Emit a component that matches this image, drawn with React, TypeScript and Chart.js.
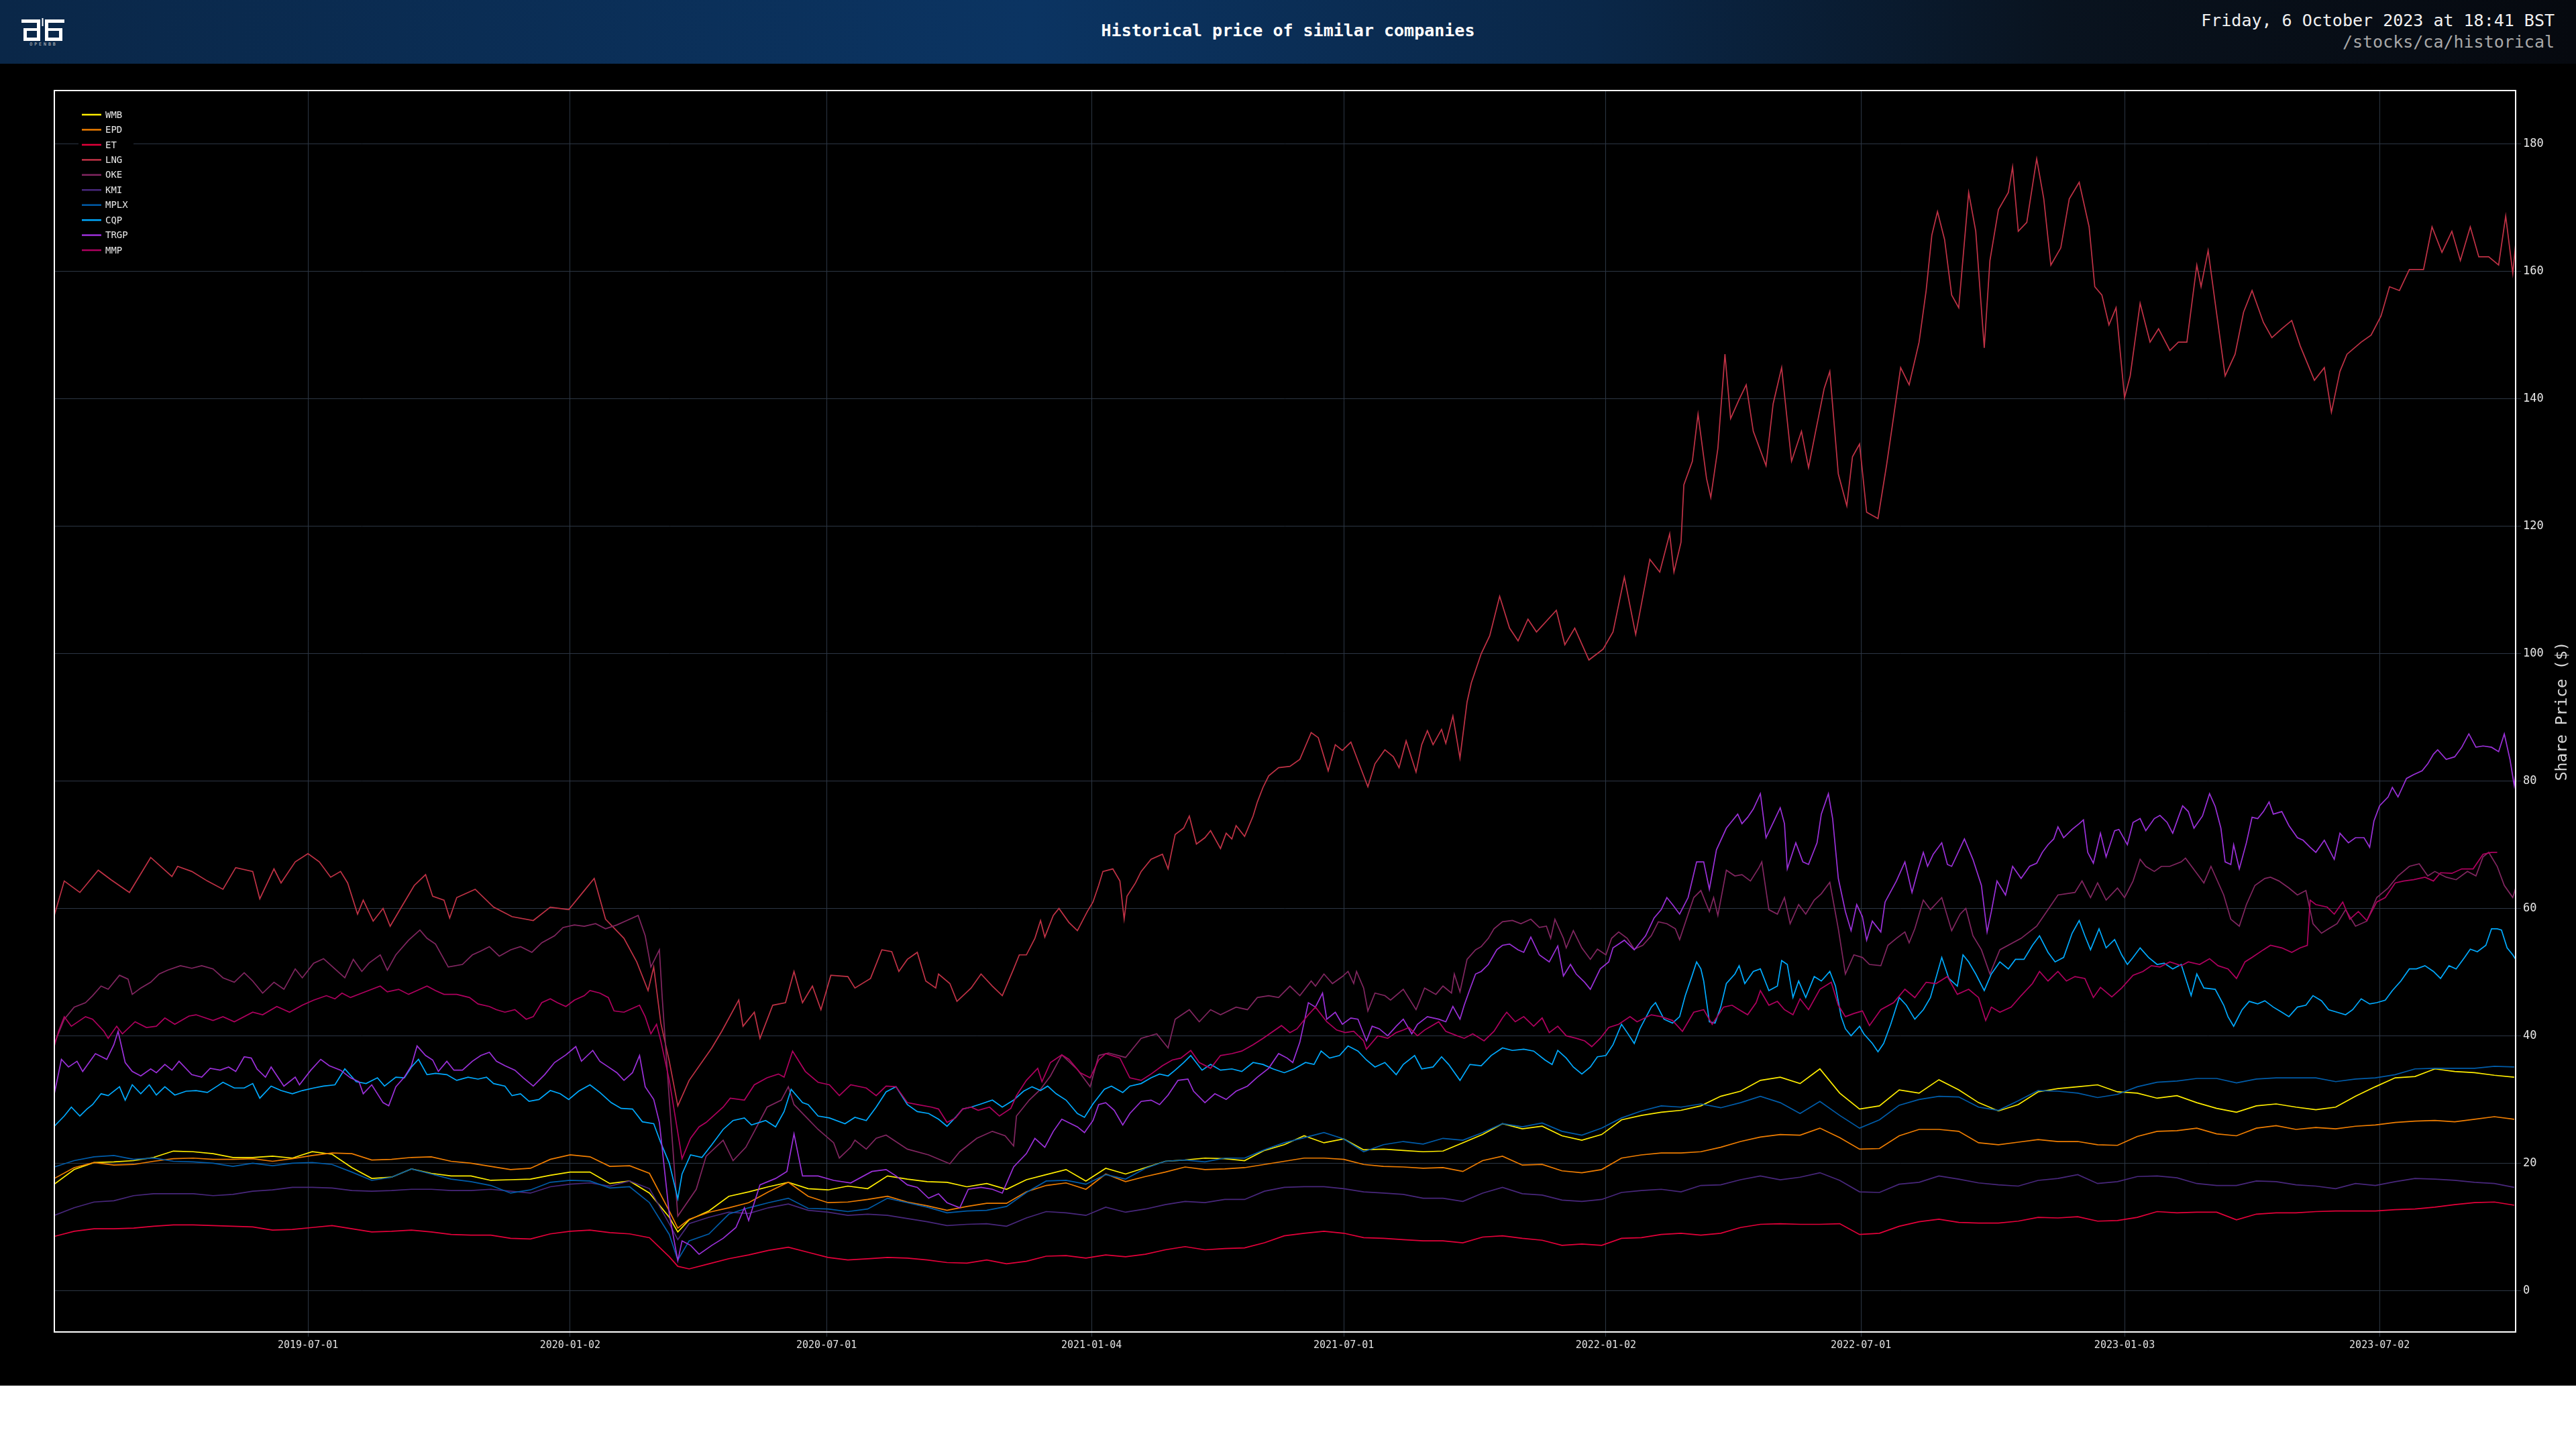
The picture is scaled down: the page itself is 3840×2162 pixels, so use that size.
import { useEffect, useRef } from "react";
import { Chart, registerables } from "chart.js";

Chart.register(...registerables);

const DAY = 86400000;
const START = Date.UTC(2019, 0, 3);
const END_DAY = 1737; // 2023-10-06

// sample days (days after 2019-01-03): every two weeks, plus the 2020-03-18 low
const DAYS: number[] = (() => {
  const out: number[] = [];
  for (let i = 0; i < 125; i++) out.push(i * 14);
  out.splice(32, 0, 440);
  return out;
})();

const TICK_DATES = [
  "2019-07-01", "2020-01-02", "2020-07-01", "2021-01-04", "2021-07-01",
  "2022-01-02", "2022-07-01", "2023-01-03", "2023-07-02",
];
const Y_TICKS = [0, 20, 40, 60, 80, 100, 120, 140, 160, 180];

const TICKERS = ["WMB", "EPD", "ET", "LNG", "OKE", "KMI", "MPLX", "CQP", "TRGP", "MMP"];
const COLORS = ["#ffed00", "#ef7d00", "#e4003a", "#c13246", "#822661", "#48277c", "#005ca9", "#00aaff", "#9b30d9", "#af005f"];

// two-weekly closes on DAYS
const WMB = [
  16.7, 19, 20.1, 20.2, 20.4, 20.9, 21.9, 21.8, 21.5, 20.9,
  20.9, 21.1, 20.8, 21.8, 21.4, 19.3, 17.6, 17.8, 19.1, 18.4,
  18, 18, 17.3, 17.4, 17.5, 18.1, 18.6, 18.6, 16.8, 17.2,
  15.3, 11.5, 9.2,
  11.1, 12.5, 14.8, 15.5, 16.3, 17, 16, 15.8, 16.4, 16,
  18, 17.5, 17.1, 17, 16.3, 16.8, 15.9, 17.4, 18.2, 19,
  17.2, 19.2, 18.3, 19.3, 20.3, 20.5, 20.8, 20.7, 20.4, 22,
  22.9, 24.3, 23.2, 23.8, 22.1, 22.2, 22, 21.8, 21.9, 23.2,
  24.5, 26.2, 25.4, 25.8, 24.3, 23.6, 24.5, 26.8, 27.5, 28,
  28.3, 29, 30.5, 31.3, 33, 33.5, 32.5, 34.8, 31, 28.5,
  29, 31.5, 31, 33.1, 31.5, 29.5, 28.2, 29.2, 31.2, 31.7,
  32, 32.3, 31.2, 31, 30.2, 30.6, 29.5, 28.6, 28, 29,
  29.3, 28.8, 28.4, 28.8, 30.5, 32, 33.4, 33.6, 34.8, 34.4,
  34.2, 33.8, 33.5,
];
const EPD = [
  17.6, 19.3, 20.1, 19.7, 19.8, 20.3, 20.7, 20.8, 20.6, 20.6,
  20.7, 20.3, 20.7, 21.2, 21.6, 21.5, 20.5, 20.6, 20.9, 21,
  20.3, 20, 19.5, 19, 19.2, 20.6, 21.3, 21, 19.5, 19.6,
  18.4, 12.5, 9.8,
  11.2, 12.3, 13, 13.8, 15.5, 17, 14.8, 13.8, 13.9, 14.3,
  14.8, 13.9, 13.3, 12.6, 13.2, 13.7, 13.7, 15.5, 16.5, 16.9,
  15.9, 18.3, 17.1, 17.9, 18.6, 19.4, 19, 19.1, 19.3, 19.8,
  20.3, 20.8, 20.8, 20.6, 19.8, 19.5, 19.4, 19.2, 19.3, 18.7,
  20.4, 21.1, 19.7, 19.8, 18.8, 18.5, 19, 20.8, 21.3, 21.6,
  21.6, 21.8, 22.5, 23.4, 24.1, 24.5, 24.4, 25.5, 24, 22.2,
  22.3, 24.3, 25.3, 25.3, 25, 23.2, 22.9, 23.3, 23.7, 23.4,
  23.4, 22.9, 22.8, 24.2, 25, 25.1, 25.5, 24.6, 24.3, 25.5,
  25.9, 25.3, 25.6, 25.4, 25.8, 26, 26.4, 26.6, 26.7, 26.5,
  26.9, 27.3, 26.9,
];
const ET = [
  8.5, 9.3, 9.7, 9.7, 9.8, 10.1, 10.3, 10.3, 10.2, 10.1,
  10, 9.5, 9.6, 9.9, 10.2, 9.7, 9.2, 9.3, 9.5, 9.2,
  8.8, 8.7, 8.7, 8.2, 8.1, 8.9, 9.3, 9.5, 9.1, 8.9,
  8.3, 5.3, 3.8,
  3.4, 4.2, 5, 5.6, 6.3, 6.8, 6, 5.2, 4.8, 5,
  5.2, 5.1, 4.8, 4.4, 4.3, 4.8, 4.2, 4.6, 5.4, 5.5,
  5.1, 5.6, 5.3, 5.7, 6.4, 6.9, 6.4, 6.6, 6.7, 7.5,
  8.6, 9, 9.3, 9, 8.3, 8.2, 8, 7.8, 7.8, 7.5,
  8.4, 8.6, 8.2, 7.9, 7.1, 7.3, 7.1, 8.2, 8.3, 8.8,
  9, 8.7, 9, 9.9, 10.4, 10.5, 10.4, 10.4, 10.5, 8.8,
  9, 10.1, 10.8, 11.2, 10.7, 10.6, 10.6, 10.9, 11.5, 11.4,
  11.6, 10.9, 11, 11.5, 12.4, 12.2, 12.3, 12.3, 11.1, 12,
  12.2, 12.2, 12.4, 12.5, 12.5, 12.5, 12.7, 12.8, 13.1, 13.5,
  13.8, 13.9, 13.4,
];
const KMI = [
  11.8, 13, 13.9, 14.1, 14.9, 15.2, 15.2, 15.2, 14.9, 15.1,
  15.6, 15.8, 16.2, 16.2, 16.1, 15.7, 15.6, 15.7, 15.9, 15.9,
  15.7, 15.7, 15.9, 15.6, 15.3, 16.3, 16.7, 16.9, 16.4, 17.2,
  16, 10.5, 8,
  10.5, 11.5, 12.3, 12.1, 13, 13.6, 12.6, 12.3, 11.8, 12,
  11.8, 11.3, 10.8, 10.2, 10.4, 10.5, 10.1, 11.4, 12.4, 12.2,
  11.8, 13.1, 12.3, 12.8, 13.5, 14, 13.8, 14.3, 14.3, 15.6,
  16.2, 16.3, 16.3, 16, 15.5, 15.3, 15.1, 14.5, 14.5, 14,
  15.3, 16.2, 15.2, 15, 14.2, 14, 14.3, 15.4, 15.7, 15.9,
  15.5, 16.5, 16.6, 17.4, 18, 17.4, 17.8, 18.5, 17.3, 15.5,
  15.4, 16.7, 17, 18, 17.5, 16.9, 16.6, 16.4, 17.3, 17.6,
  18.2, 16.8, 17.1, 17.9, 18, 17.7, 16.8, 16.5, 16.5, 17.2,
  17.1, 16.6, 16.4, 16, 16.8, 16.5, 17.1, 17.6, 17.5, 17.3,
  17, 16.8, 16.2,
];
const MPLX = [
  19.4, 20.4, 21, 21.2, 20.6, 20.8, 20.3, 20.2, 20, 19.5,
  20, 19.6, 20, 20.1, 19.8, 18.6, 17.3, 17.8, 19.1, 18.3,
  17.5, 17.1, 16.5, 15.3, 15.8, 17, 17.3, 17.2, 16.1, 16.3,
  13.8, 8.8, 4.8,
  7.8, 8.9, 12, 13, 13.8, 14.5, 12.9, 12.8, 12.4, 12.8,
  14.5, 13.8, 13.1, 12.2, 12.5, 12.6, 13.2, 15.4, 17.2, 17.3,
  16.7, 18.2, 17.5, 19.2, 20.3, 20.5, 20.2, 20.8, 20.8, 22.1,
  23.2, 24, 24.8, 23.8, 21.8, 22.9, 23.4, 23, 23.9, 23.6,
  24.8, 26.2, 25.7, 26.3, 25, 24.4, 25.5, 27.1, 28.2, 29,
  28.8, 29.3, 28.7, 29.5, 30.5, 29.5, 27.8, 29.7, 27.5, 25.5,
  26.8, 29.1, 30, 30.5, 30.4, 28.8, 28.3, 29.8, 31.4, 31.3,
  31, 30.3, 30.8, 32, 32.7, 32.9, 33.3, 33.3, 32.6, 33.2,
  33.4, 33.4, 33.4, 32.8, 33.2, 33.4, 33.9, 34.8, 34.9, 34.9,
  34.9, 35.2, 35.1,
];

// read more finely: [days after 2019-01-03, close]
const LNG_FINE: [number, number][] = [
  [0, 58.9], [7, 64.3], [18, 62.5], [31, 66], [40, 64.5], [53, 62.5], [68, 68], [83, 65], [87, 66.6], [97, 65.8],
  [108, 64.3], [119, 63], [128, 66.4], [140, 65.8], [145, 61.5], [155, 66.2], [160, 64], [170, 67.3], [179, 68.6], [187, 67.3],
  [195, 64.9], [202, 65.8], [207, 64], [214, 59.1], [218, 61.3], [225, 58], [232, 60], [237, 57.2], [246, 60.6], [254, 63.6],
  [262, 65.3], [267, 61.9], [275, 61.3], [279, 58.5], [284, 61.7], [297, 63], [310, 60.2], [323, 58.7], [338, 58.1], [350, 60.2],
  [363, 59.8], [374, 62.8], [381, 64.7], [389, 58.3], [402, 55.3], [411, 51.6], [419, 47.1], [423, 50.8], [428, 42], [434, 36],
  [440, 29], [448, 33], [464, 38.1], [471, 40.7], [483, 45.6], [486, 41.5], [494, 43.7], [498, 39.6], [507, 44.8], [516, 45.2],
  [522, 50.1], [528, 45.2], [535, 47.8], [541, 44.1], [548, 49.5], [560, 49.3], [565, 47.5], [576, 49], [584, 53.5], [591, 53.2],
  [596, 50.1], [602, 52], [609, 53.1], [615, 48.6], [622, 47.5], [624, 49.7], [632, 48.2], [637, 45.4], [647, 47.5], [654, 49.7],
  [662, 47.8], [669, 46.3], [677, 50.5], [681, 52.7], [686, 52.7], [692, 55.3], [696, 58.1], [699, 55.5], [705, 58.9], [709, 60],
  [716, 57.8], [722, 56.5], [729, 59.5], [733, 61], [737, 63.6], [740, 65.8], [747, 66.2], [752, 64.3], [755, 58.3], [757, 61.9],
  [763, 64], [767, 65.8], [774, 67.7], [782, 68.5], [786, 66.2], [791, 71.6], [797, 72.6], [801, 74.5], [806, 70.1], [812, 71.1],
  [816, 72.2], [823, 69.4], [827, 71.8], [831, 70.9], [834, 73], [840, 71.3], [846, 74.5], [849, 76.7], [853, 79], [857, 80.8],
  [864, 82.1], [872, 82.3], [879, 83.4], [883, 85.5], [887, 87.6], [892, 86.8], [899, 81.6], [904, 85.7], [909, 84.8], [915, 86.1],
  [922, 82], [927, 79.1], [932, 82.7], [939, 84.9], [945, 83.8], [949, 82.1], [954, 86.3], [961, 81.4], [965, 85.7], [969, 87.9],
  [973, 85.7], [979, 88.1], [982, 85.9], [987, 90.2], [992, 83.6], [997, 92.4], [1000, 95.4], [1007, 100], [1013, 102.8], [1020, 109],
  [1027, 104], [1033, 102], [1040, 105.4], [1046, 103.4], [1060, 106.8], [1066, 101.4], [1073, 104], [1083, 99], [1093, 100.7], [1100, 103.4],
  [1108, 112], [1116, 103], [1126, 114.8], [1133, 112.8], [1140, 118.8], [1143, 112.8], [1148, 117.5], [1150, 126.5], [1156, 130.2], [1160, 137.6],
  [1166, 127.5], [1169, 124.5], [1174, 132.2], [1179, 147], [1183, 136.9], [1189, 139.9], [1194, 142.2], [1199, 134.9], [1208, 129.5], [1213, 139.2],
  [1219, 144.9], [1226, 130.2], [1233, 134.9], [1238, 129.2], [1243, 134.9], [1249, 141.6], [1253, 144.3], [1259, 128.2], [1265, 123.2], [1269, 130.9],
  [1274, 132.9], [1279, 122.2], [1287, 121.2], [1293, 129.5], [1297, 135.6], [1303, 144.9], [1309, 142.2], [1316, 148.9], [1321, 157], [1325, 165.7],
  [1329, 169.4], [1334, 165], [1339, 156.3], [1344, 154.3], [1351, 172.4], [1356, 166.3], [1362, 148], [1366, 161.7], [1372, 169.7], [1379, 172.4],
  [1382, 176.4], [1386, 166.3], [1392, 167.7], [1399, 177.7], [1404, 171.4], [1409, 161], [1416, 163.7], [1422, 171.4], [1429, 174], [1436, 167],
  [1440, 157.6], [1445, 156.3], [1450, 151.6], [1455, 154.3], [1461, 140.2], [1465, 143.6], [1472, 155], [1479, 148.9], [1485, 151], [1493, 147.6],
  [1499, 148.9], [1505, 148.9], [1512, 161], [1515, 157.6], [1520, 163.3], [1525, 155], [1532, 143.6], [1539, 147], [1545, 153.6], [1551, 157],
  [1559, 152], [1565, 149.6], [1572, 151], [1579, 152.3], [1585, 148.3], [1595, 142.9], [1602, 144.9], [1607, 137.9], [1613, 144.3], [1618, 147],
  [1628, 148.9], [1635, 150], [1642, 153], [1648, 157.6], [1655, 157], [1662, 160.3], [1672, 160.3], [1678, 167], [1685, 163], [1692, 166.3],
  [1698, 161.7], [1705, 167], [1711, 162.3], [1718, 162.3], [1725, 161], [1730, 168.7], [1735, 159.7], [1737, 164.3],
];
const OKE_FINE: [number, number][] = [
  [0, 38.8], [7, 42.6], [14, 44.5], [22, 45.2], [27, 46.3], [33, 47.8], [38, 47.3], [46, 49.5], [52, 48.9], [55, 46.5],
  [61, 47.5], [68, 48.4], [74, 49.7], [80, 50.3], [89, 51], [97, 50.6], [104, 51], [112, 50.5], [119, 49.1], [127, 48.4],
  [134, 49.9], [140, 48.6], [147, 46.7], [155, 48.4], [162, 47.3], [170, 50.5], [175, 49.1], [183, 51.4], [190, 52.1], [198, 50.5],
  [205, 49.1], [211, 52], [217, 50.1], [222, 51.4], [230, 52.7], [235, 50.3], [241, 52.7], [250, 55], [258, 56.6], [263, 55.3],
  [269, 54.4], [278, 50.8], [288, 51.2], [295, 52.7], [301, 53.3], [307, 54], [314, 52.5], [322, 53.5], [329, 54], [337, 53.1],
  [344, 54.6], [353, 55.7], [359, 57], [367, 57.4], [374, 57.2], [382, 57.6], [389, 56.8], [397, 57.4], [404, 58.1], [412, 58.9],
  [417, 55.7], [421, 50.8], [427, 53.5], [429, 46], [434, 30], [440, 11.7], [453, 15.9], [460, 21.1], [472, 23.6], [479, 20.4],
  [488, 22.5], [494, 25], [503, 28.8], [513, 29.9], [518, 32], [522, 29.2], [539, 25.3], [550, 23.2], [554, 20.8], [562, 22.5],
  [565, 23.6], [573, 22.2], [580, 23.9], [587, 24.4], [602, 22.2], [617, 21.3], [632, 19.9], [639, 21.8], [651, 23.9], [662, 25],
  [671, 24.3], [677, 22.7], [679, 27.4], [688, 29.9], [696, 31.6], [703, 33.7], [711, 37], [722, 34.7], [731, 32], [737, 36.9],
  [744, 37.3], [756, 36.6], [767, 39.6], [778, 40.3], [786, 38.1], [791, 42.6], [801, 44.1], [808, 42.2], [816, 44.1], [823, 43.3],
  [834, 44.5], [842, 44.1], [849, 46], [857, 46.3], [864, 46], [872, 47.8], [879, 46.3], [887, 48.6], [890, 47.8], [896, 49.7],
  [902, 48.2], [909, 49.3], [913, 50.1], [917, 48.2], [919, 50.1], [924, 47.5], [927, 43.9], [932, 46.7], [939, 46.3], [943, 45.6],
  [952, 47.3], [961, 44.1], [967, 47.5], [975, 46.5], [980, 47.8], [986, 46.7], [988, 49.7], [992, 46.9], [997, 52], [1003, 53.5],
  [1007, 54], [1012, 55.3], [1016, 56.8], [1022, 57.9], [1029, 58.1], [1035, 57.6], [1042, 58.3], [1048, 57], [1053, 57.2], [1056, 55.3],
  [1059, 58.3], [1065, 55.3], [1067, 53.8], [1072, 56.5], [1078, 53.8], [1084, 52], [1089, 53.6], [1095, 52.7], [1099, 55.3], [1104, 56.3],
  [1110, 55.3], [1115, 53.6], [1121, 54.2], [1127, 55.7], [1132, 57.9], [1138, 57.6], [1144, 56.8], [1147, 55.1], [1153, 59.1], [1157, 61.7],
  [1162, 62.8], [1168, 59.5], [1171, 61.7], [1174, 58.9], [1180, 66], [1186, 65.1], [1191, 65.3], [1197, 64.3], [1203, 66.4], [1205, 67.3],
  [1210, 59.8], [1216, 59.1], [1221, 61.7], [1225, 57.6], [1231, 60.6], [1236, 59.1], [1242, 61.3], [1247, 62.3], [1253, 64.1], [1259, 56.8],
  [1264, 49.7], [1270, 52.7], [1276, 52.3], [1281, 51.2], [1289, 51], [1294, 54.2], [1300, 55.3], [1306, 56.3], [1309, 54.6], [1313, 56.8],
  [1319, 61.3], [1324, 59.8], [1332, 61.7], [1339, 56.5], [1345, 59.1], [1349, 60], [1354, 55.7], [1360, 53.5], [1366, 49.7], [1373, 53.5],
  [1388, 55.3], [1399, 57.2], [1407, 59.8], [1414, 62.1], [1426, 62.5], [1431, 64.3], [1437, 61.7], [1442, 64], [1448, 61.3], [1456, 63.2],
  [1461, 61.7], [1467, 64.3], [1472, 67.7], [1476, 66.6], [1482, 65.8], [1487, 66.6], [1493, 66.6], [1501, 67.3], [1504, 67.9], [1512, 65.5],
  [1517, 64], [1522, 66.6], [1531, 62.1], [1536, 58.3], [1542, 57.2], [1547, 60.6], [1553, 63.6], [1560, 64.7], [1564, 64.9], [1570, 64.3],
  [1577, 63.2], [1583, 62.1], [1589, 62.8], [1594, 57.6], [1600, 56.1], [1605, 56.8], [1611, 57.6], [1617, 59.8], [1624, 57.2], [1632, 58],
  [1639, 61.7], [1647, 63.2], [1654, 65.1], [1662, 66.6], [1669, 67], [1675, 65.1], [1680, 65.8], [1688, 64.9], [1695, 64.5], [1703, 65.8],
  [1709, 65.1], [1714, 68.1], [1718, 68.8], [1724, 66.6], [1729, 63.6], [1735, 61.7], [1737, 63.2],
];
const CQP_FINE: [number, number][] = [
  [0, 25.8], [7, 27.4], [12, 28.8], [18, 27.4], [23, 28.5], [27, 29.2], [33, 30.9], [38, 30.6], [46, 32], [50, 29.9],
  [55, 32.3], [61, 30.9], [67, 32.3], [72, 30.7], [78, 32], [85, 30.7], [93, 31.3], [100, 31.4], [108, 31.1], [115, 32.1],
  [119, 32.7], [127, 31.8], [134, 31.8], [140, 32.5], [145, 30.2], [153, 32.1], [160, 31.4], [168, 30.9], [175, 31.4], [183, 31.8],
  [190, 32.1], [198, 32.3], [205, 34.8], [213, 32.8], [220, 32.5], [228, 33.4], [233, 32.1], [241, 33.5], [247, 33.4], [252, 35.1],
  [257, 36.3], [263, 33.9], [269, 34.1], [277, 33.9], [284, 33], [292, 33.5], [299, 33.2], [305, 33.5], [310, 32.5], [318, 32.1],
  [323, 30.6], [329, 30.9], [335, 29.7], [342, 30], [350, 31.4], [357, 30.9], [363, 30], [370, 31.3], [378, 32.3], [385, 31.1],
  [393, 29.5], [400, 28.6], [408, 28.5], [415, 26.5], [423, 26.2], [428, 23.2], [434, 20], [440, 14.4], [443, 18.3], [449, 21.3],
  [457, 20.9], [464, 22.9], [472, 25.3], [479, 26.7], [487, 27.1], [492, 26], [502, 26.7], [509, 25.7], [515, 28.1], [520, 31.6],
  [528, 29.5], [532, 29.2], [539, 27.4], [547, 27.1], [558, 26.2], [565, 27.2], [573, 26.7], [580, 28.8], [587, 31.2], [594, 32],
  [602, 29.2], [609, 28.1], [617, 27.8], [624, 26.9], [630, 25.8], [636, 27.2], [641, 28.5], [647, 28.8], [654, 29.3], [662, 29.9],
  [669, 28.8], [677, 29.9], [684, 31.3], [690, 32], [696, 31.4], [701, 32.1], [707, 30.9], [714, 29.9], [722, 27.8], [727, 27.2],
  [733, 29.3], [741, 31.6], [746, 32.1], [754, 31.1], [759, 32.1], [767, 32.5], [774, 33.4], [780, 34], [786, 33.7], [791, 34.6],
  [797, 35.8], [802, 36.9], [810, 34.6], [816, 35.5], [823, 34.6], [831, 34.8], [838, 34.4], [846, 35.8], [853, 35.5], [860, 34.8],
  [868, 34.2], [875, 34.8], [883, 35.8], [889, 35.5], [894, 37.6], [900, 36.5], [907, 36.9], [913, 38.4], [920, 37.6], [926, 36.2],
  [932, 35.1], [939, 35.8], [947, 33.9], [952, 35.5], [960, 36.9], [965, 34.8], [973, 35.1], [979, 36.7], [984, 35.5], [992, 33],
  [999, 35.5], [1007, 35.3], [1014, 36.9], [1022, 38.1], [1029, 37.7], [1037, 37.9], [1044, 37.6], [1052, 36.2], [1057, 35.5], [1061, 37.7],
  [1067, 36.5], [1072, 35.1], [1078, 34], [1084, 35.1], [1089, 36.7], [1095, 36.9], [1100, 38.6], [1106, 41.8], [1110, 40.5], [1115, 38.8],
  [1119, 41.1], [1127, 44.5], [1130, 45.2], [1136, 42.6], [1142, 42], [1147, 43], [1151, 46.3], [1155, 48.9], [1159, 51.6], [1162, 50.5],
  [1164, 48.6], [1168, 42.2], [1172, 42], [1176, 44.5], [1180, 48.2], [1186, 49.7], [1189, 51], [1193, 48.2], [1199, 50.1], [1204, 50.5],
  [1210, 47.1], [1216, 47.8], [1219, 51.8], [1223, 51.2], [1227, 46], [1231, 48.6], [1236, 46], [1242, 49.3], [1247, 48.6], [1253, 50.1],
  [1257, 47.8], [1261, 43], [1264, 41.1], [1268, 40], [1274, 41.5], [1277, 40.3], [1283, 38.8], [1287, 37.5], [1291, 38.8], [1296, 41.8],
  [1302, 46], [1307, 44.8], [1313, 42.6], [1319, 44.1], [1324, 46], [1332, 52.3], [1337, 49], [1343, 47.8], [1347, 52.7], [1351, 51.6],
  [1356, 49.7], [1362, 47.1], [1367, 49.7], [1373, 51.6], [1379, 50.5], [1384, 52], [1390, 52], [1396, 54.2], [1401, 55.7], [1407, 53.1],
  [1412, 51.6], [1418, 52.3], [1424, 56.1], [1429, 58.1], [1433, 55.7], [1437, 53.5], [1443, 56.8], [1448, 53.8], [1454, 55.1], [1459, 52.7],
  [1463, 51.2], [1467, 52.3], [1472, 53.8], [1478, 52.3], [1484, 51.2], [1489, 51.4], [1495, 50.5], [1501, 51.2], [1508, 46.3], [1512, 49.7],
  [1517, 47.5], [1525, 47.3], [1531, 44.8], [1534, 43], [1538, 41.5], [1544, 44.1], [1549, 45.4], [1555, 45], [1560, 45.5], [1566, 44.5],
  [1572, 43.7], [1577, 43], [1583, 44.5], [1589, 44.8], [1594, 46.3], [1600, 45.5], [1605, 44.1], [1611, 43.7], [1617, 43.3], [1622, 44.1],
  [1628, 45.8], [1634, 45], [1639, 45.2], [1645, 45.6], [1650, 47.1], [1656, 48.6], [1662, 50.5], [1667, 50.5], [1673, 51], [1679, 50.1],
  [1684, 49], [1690, 51], [1695, 50.5], [1701, 52.3], [1705, 53.6], [1710, 53.2], [1716, 54.2], [1720, 56.8], [1724, 56.8], [1727, 56.6],
  [1731, 53.8], [1735, 52.7], [1737, 52],
];
const TRGP_FINE: [number, number][] = [
  [0, 30.9], [5, 36.3], [10, 35.1], [16, 36], [20, 34.4], [29, 37.2], [37, 36.3], [42, 38.6], [45, 40.7], [50, 35.8],
  [55, 34.4], [61, 33.7], [68, 34.8], [72, 34.2], [78, 35.5], [83, 34.6], [88, 36], [97, 33.9], [104, 33.5], [110, 34.9],
  [117, 34.6], [123, 35.1], [128, 34.4], [134, 36.7], [139, 36.5], [143, 34.8], [149, 33.5], [153, 35.1], [162, 32.1], [170, 33.5],
  [173, 32.3], [181, 34.6], [188, 36.3], [194, 35.3], [202, 34.6], [209, 33.4], [215, 32.8], [218, 30.9], [224, 32.3], [232, 29.5],
  [236, 29], [241, 32], [247, 33.5], [252, 35.3], [256, 38.4], [262, 36.9], [267, 36.2], [271, 34.4], [277, 36], [282, 34.6],
  [288, 34.6], [295, 36], [301, 36.9], [307, 37.4], [312, 36], [318, 35.3], [325, 34.6], [331, 33.4], [338, 32.1], [346, 33.9],
  [353, 35.8], [361, 37], [368, 38.3], [372, 36], [380, 37.7], [385, 36], [391, 35.1], [397, 34.2], [402, 33], [408, 34.2],
  [413, 36.9], [417, 32], [423, 30], [427, 26.4], [434, 12], [440, 4.7], [443, 7.8], [449, 7.1], [455, 5.7], [464, 7.1],
  [472, 8.2], [481, 9.9], [487, 13], [490, 11], [498, 16.6], [509, 17.6], [517, 18.7], [522, 24.6], [528, 18], [539, 18],
  [550, 17.3], [562, 16.9], [577, 18.7], [587, 19], [594, 18], [602, 16.6], [609, 16.2], [617, 14.5], [624, 15.2], [630, 13.8],
  [639, 13], [645, 15.9], [654, 16.2], [662, 15.9], [669, 15.3], [677, 19.4], [686, 21.5], [692, 23.9], [699, 22.5], [705, 25],
  [711, 26.9], [722, 25.7], [727, 24.8], [733, 26.7], [737, 29.2], [742, 29.5], [748, 28.3], [754, 26], [759, 27.8], [767, 29.7],
  [774, 29.9], [780, 29.2], [786, 30.7], [793, 33], [800, 33.2], [804, 31.3], [812, 29.5], [819, 30.9], [827, 30], [834, 31.3],
  [842, 32.1], [849, 33.5], [857, 34.9], [864, 37.2], [870, 36.5], [874, 35.8], [879, 39], [885, 45.2], [890, 44.5], [895, 46.7],
  [898, 42.6], [904, 43.7], [909, 41.8], [915, 42.8], [920, 42.6], [926, 39.2], [930, 41.5], [935, 41.1], [941, 40], [947, 41.5],
  [952, 42.6], [958, 40.3], [962, 41.8], [969, 43], [977, 42.6], [982, 42.2], [987, 44.6], [992, 42.6], [995, 44.8], [999, 47.3],
  [1003, 49.7], [1007, 50.1], [1012, 51.2], [1018, 53.5], [1022, 54.2], [1027, 54.4], [1033, 53.5], [1037, 53.1], [1042, 55.5], [1048, 52.7],
  [1055, 51.6], [1061, 54.1], [1065, 49.4], [1070, 51.2], [1074, 49.7], [1080, 48.4], [1084, 47.3], [1091, 50.5], [1097, 51.6], [1100, 53.8],
  [1108, 55], [1115, 53.5], [1123, 55.7], [1129, 58.5], [1134, 59.8], [1138, 61.7], [1142, 60.6], [1147, 59.1], [1153, 61.7], [1159, 67.3],
  [1164, 67.3], [1168, 63], [1173, 69.2], [1180, 72.6], [1184, 73.7], [1188, 74.8], [1191, 73.3], [1195, 74.3], [1199, 75.6], [1204, 78],
  [1208, 71.1], [1214, 73.9], [1218, 75.8], [1221, 73.3], [1223, 66.2], [1229, 70.3], [1234, 67.3], [1238, 66.9], [1244, 70.3], [1247, 74.8],
  [1252, 78], [1255, 74.1], [1259, 64.7], [1264, 59.5], [1268, 56.5], [1272, 60.6], [1276, 58.7], [1279, 55], [1283, 58], [1289, 56.3],
  [1292, 61], [1300, 64.3], [1306, 67.3], [1311, 62.5], [1315, 65.8], [1319, 68.8], [1322, 66.6], [1326, 68.5], [1332, 70.3], [1336, 66.9],
  [1339, 66.6], [1343, 68.5], [1348, 70.9], [1354, 67.7], [1360, 63.6], [1364, 56.3], [1367, 59.5], [1371, 64.3], [1377, 62.1], [1382, 66.6],
  [1388, 64.7], [1394, 66.6], [1399, 67.1], [1403, 68.8], [1407, 70], [1411, 70.9], [1414, 72.8], [1418, 71.1], [1424, 72.4], [1429, 73.3],
  [1432, 73.9], [1435, 68.8], [1439, 67.1], [1444, 71.8], [1448, 68.1], [1454, 72.2], [1457, 72.4], [1463, 70], [1467, 73.5], [1472, 74.1],
  [1476, 72.2], [1482, 74.1], [1486, 74.6], [1491, 73.5], [1495, 71.8], [1499, 74.3], [1502, 76.1], [1506, 75.2], [1510, 72.6], [1516, 74.5],
  [1521, 78], [1525, 76], [1529, 72.6], [1532, 67.3], [1536, 66.9], [1538, 70], [1542, 66.2], [1547, 70.3], [1551, 74.3], [1555, 74.1],
  [1559, 75.2], [1563, 76.7], [1566, 74.8], [1572, 75.2], [1577, 73], [1583, 71.1], [1587, 70.7], [1592, 69.6], [1596, 68.8], [1602, 70.7],
  [1609, 67.7], [1613, 71.8], [1619, 70.3], [1624, 71.1], [1630, 71.1], [1634, 69.6], [1637, 73.7], [1641, 76.1], [1647, 77.5], [1650, 79],
  [1654, 77.5], [1660, 80.4], [1665, 81], [1671, 81.6], [1675, 82.7], [1679, 84.2], [1682, 84.9], [1688, 83.4], [1694, 83.8], [1699, 85.3],
  [1704, 87.4], [1709, 85.3], [1714, 85.5], [1720, 85.3], [1725, 84.6], [1729, 87.4], [1733, 83.4], [1736, 79.3], [1737, 81],
];
const MMP_FINE: [number, number][] = [
  [0, 38.4], [3, 40.7], [7, 43], [12, 41.5], [22, 43], [27, 42.6], [35, 40.7], [38, 39.6], [44, 41.5], [48, 40.3],
  [57, 42.2], [65, 41.3], [72, 41.5], [78, 42.8], [85, 41.8], [95, 43.1], [100, 43.3], [112, 42.4], [119, 43], [127, 42.2],
  [140, 43.7], [147, 43.3], [157, 44.6], [166, 43.7], [175, 44.8], [183, 45.6], [192, 46.3], [198, 45.8], [203, 46.7], [209, 46],
  [217, 46.7], [230, 47.8], [235, 46.9], [243, 47.3], [250, 46.5], [258, 47.3], [263, 47.8], [269, 47.1], [275, 46.5], [284, 46.5],
  [293, 46], [299, 45], [307, 44.6], [312, 44.1], [318, 43.7], [325, 44.1], [333, 42.6], [338, 43], [344, 45.2], [350, 45.8],
  [355, 45.2], [361, 44.6], [367, 45.6], [374, 46.3], [378, 47.1], [385, 46.7], [391, 46], [395, 43.9], [402, 43.7], [408, 44.3],
  [413, 44.8], [417, 43], [421, 40.3], [425, 41.8], [428, 39.2], [434, 33], [443, 20.7], [449, 23.9], [455, 25.7], [460, 26.4],
  [472, 28.8], [477, 30.2], [487, 29.9], [494, 32.3], [503, 33.4], [511, 34], [515, 33.5], [521, 37.6], [530, 34.4], [539, 32.7],
  [547, 32.3], [554, 30.6], [562, 32.3], [573, 31.8], [580, 30.6], [587, 32.1], [594, 32], [602, 29.5], [609, 29.2], [619, 28.8],
  [624, 28.5], [630, 26.4], [636, 27.1], [641, 28.5], [647, 28.8], [652, 28.3], [660, 28.8], [667, 27.4], [675, 28.6], [679, 30.6],
  [686, 33], [694, 34.9], [697, 32.8], [703, 35.8], [711, 37], [716, 36.3], [724, 34.2], [731, 33.4], [737, 36.2], [742, 37.2],
  [752, 36.5], [759, 33.4], [767, 33], [774, 34], [782, 35.3], [789, 36.2], [795, 36.5], [802, 37.7], [808, 35.8], [816, 34.9],
  [823, 36.9], [831, 37.2], [838, 37.6], [846, 38.6], [853, 39.6], [866, 41.6], [872, 40.5], [877, 41.1], [885, 43.3], [890, 44.5],
  [898, 42.2], [905, 40.9], [911, 40.5], [917, 40.7], [924, 39.2], [926, 37.9], [934, 40], [941, 39.6], [947, 40.5], [952, 40.9],
  [956, 41.3], [962, 40], [967, 40.9], [977, 42.2], [982, 40.7], [990, 40], [995, 39.6], [1001, 40.3], [1009, 39.2], [1016, 40.7],
  [1022, 42.8], [1025, 43.7], [1031, 42.2], [1037, 43], [1044, 41.5], [1050, 42.8], [1055, 40.5], [1061, 41.5], [1067, 40], [1074, 39.6],
  [1080, 39.2], [1085, 38.3], [1091, 39.6], [1097, 41.3], [1104, 41.8], [1112, 43], [1117, 42.2], [1127, 43.3], [1134, 43], [1142, 42.4],
  [1149, 40.7], [1157, 43.7], [1164, 44.1], [1170, 41.8], [1178, 44.5], [1184, 44.8], [1189, 44.1], [1195, 43.3], [1201, 45.2], [1204, 47.1],
  [1210, 44.8], [1216, 45.4], [1221, 44.1], [1227, 43.3], [1232, 45.8], [1238, 44.1], [1246, 47.3], [1254, 48.4], [1259, 44.8], [1264, 43],
  [1270, 43.5], [1276, 43.9], [1281, 41.6], [1289, 44.1], [1298, 45.2], [1306, 47.3], [1313, 46], [1321, 48.4], [1328, 48.2], [1336, 49.3],
  [1343, 46.5], [1351, 47.3], [1358, 46], [1363, 42.4], [1367, 44.5], [1373, 43.7], [1381, 44.5], [1388, 46.3], [1396, 48.2], [1401, 50.1],
  [1407, 48.6], [1414, 50.1], [1420, 48.6], [1426, 49.3], [1433, 49], [1439, 46], [1444, 47.6], [1452, 46.1], [1459, 47.5], [1467, 49.5],
  [1474, 50.1], [1480, 51], [1486, 50.8], [1493, 51.6], [1501, 51], [1506, 51.6], [1514, 51.2], [1521, 52.1], [1527, 51], [1534, 50.5],
  [1540, 49], [1546, 51.6], [1551, 52.3], [1559, 53.5], [1564, 54.2], [1572, 53.8], [1579, 53.1], [1585, 53.8], [1590, 54.2], [1592, 61.3],
  [1596, 60.6], [1604, 60.2], [1609, 59.1], [1615, 61], [1620, 58.3], [1626, 59.5], [1632, 58.1], [1639, 61], [1645, 61.7], [1652, 64],
  [1658, 64.3], [1665, 64.5], [1673, 64.9], [1679, 64.3], [1684, 65.6], [1692, 65.5], [1699, 66.2], [1707, 66.2], [1714, 68.5], [1720, 68.8],
  [1724, 68.8],
];

const toX = (d: number) => START + d * DAY;
const fromList = (vals: number[]) => vals.map((v, k) => ({ x: toX(DAYS[k]), y: v }));
const fromPairs = (pairs: [number, number][]) => pairs.map(([d, v]) => ({ x: toX(d), y: v }));

const SERIES_POINTS = [
  fromList(WMB), fromList(EPD), fromList(ET), fromPairs(LNG_FINE), fromPairs(OKE_FINE),
  fromList(KMI), fromList(MPLX), fromPairs(CQP_FINE), fromPairs(TRGP_FINE), fromPairs(MMP_FINE),
];

const FONT = "'DejaVu Sans Mono', monospace";
const GRID = "#2c3644";

const framePlugin = {
  id: "frame",
  afterDatasetsDraw(chart: any) {
    const { ctx, chartArea: a } = chart;
    ctx.save();
    ctx.strokeStyle = "#ffffff";
    ctx.lineWidth = 2;
    ctx.strokeRect(a.left, a.top, a.right - a.left, a.bottom - a.top);
    ctx.restore();
  },
};

const legendPlugin = {
  id: "innerLegend",
  afterDatasetsDraw(chart: any) {
    const { ctx, chartArea: a } = chart;
    ctx.save();
    ctx.fillStyle = "#000000";
    ctx.fillRect(a.left + 36, a.top + 25, 82, 226);
    ctx.font = `14px ${FONT}`;
    ctx.textBaseline = "middle";
    chart.data.datasets.forEach((ds: any, i: number) => {
      const y = a.top + 36 + i * 22.45;
      ctx.strokeStyle = ds.borderColor;
      ctx.lineWidth = 2.5;
      ctx.beginPath();
      ctx.moveTo(a.left + 41, y);
      ctx.lineTo(a.left + 70, y);
      ctx.stroke();
      ctx.fillStyle = "#e6e6e6";
      ctx.fillText(ds.label, a.left + 76, y + 1);
    });
    ctx.restore();
  },
};

const yTitlePlugin = {
  id: "yTitle",
  afterDraw(chart: any) {
    const { ctx, chartArea: a } = chart;
    ctx.save();
    ctx.translate(chart.width - 20, (a.top + a.bottom) / 2);
    ctx.rotate(-Math.PI / 2);
    ctx.textAlign = "center";
    ctx.textBaseline = "middle";
    ctx.font = `23px ${FONT}`;
    ctx.fillStyle = "#d8d8d8";
    ctx.fillText("Share Price ($)", 0, 0);
    ctx.restore();
  },
};

const Logo = () => (
  <svg width={66} height={42} viewBox="0 0 66 42" style={{ position: "absolute", left: 32, top: 27 }}>
    <g fill="#ffffff">
      <rect x={0} y={2} width={28} height={5} />
      <rect x={23} y={2} width={5} height={32} />
      <rect x={3} y={15} width={25} height={4} />
      <rect x={3} y={15} width={5} height={19} />
      <rect x={3} y={29} width={25} height={5} />
      <rect x={30.5} y={0} width={2} height={12} />
      <rect x={35} y={2} width={29} height={5} />
      <rect x={35} y={2} width={5} height={32} />
      <rect x={35} y={15} width={26} height={4} />
      <rect x={56} y={15} width={5} height={19} />
      <rect x={35} y={29} width={26} height={5} />
    </g>
    <text x={33} y={41} fontSize={6.5} fill="#c8c8c8" textAnchor="middle" letterSpacing={3} fontFamily={FONT}>
      OPENBB
    </text>
  </svg>
);

const Header = () => (
  <div
    style={{
      position: "absolute",
      top: 0,
      left: 0,
      width: 3840,
      height: 95,
      background:
        "linear-gradient(90deg, #0a2748 0%, #0b3462 40%, #0a2748 62%, #09131f 80%, #06090f 100%)",
      fontFamily: FONT,
      fontSize: 25,
    }}
  >
    <Logo />
    <div style={{ position: "absolute", left: 0, width: 3840, top: 33, height: 26, lineHeight: "26px", textAlign: "center", color: "#ffffff", fontWeight: "bold" }}>
      Historical price of similar companies
    </div>
    <div style={{ position: "absolute", right: 32, top: 18, height: 26, lineHeight: "26px", color: "#f0f0f0", whiteSpace: "nowrap" }}>
      Friday, 6 October 2023 at 18:41 BST
    </div>
    <div style={{ position: "absolute", right: 32, top: 50, height: 26, lineHeight: "26px", color: "#a8a8a8", whiteSpace: "nowrap" }}>
      /stocks/ca/historical
    </div>
  </div>
);

export default function App() {
  const canvasRef = useRef<HTMLCanvasElement>(null);

  useEffect(() => {
    document.body.style.margin = "0";
    if (!canvasRef.current) return;
    const chart = new Chart(canvasRef.current, {
      type: "line",
      data: {
        datasets: TICKERS.map((t, i) => ({
          label: t,
          data: SERIES_POINTS[i],
          borderColor: COLORS[i],
          backgroundColor: COLORS[i],
          borderWidth: 1.7,
          pointRadius: 0,
          tension: 0,
          order: TICKERS.length - i,
        })),
      },
      options: {
        animation: false,
        responsive: true,
        maintainAspectRatio: false,
        devicePixelRatio: 1,
        layout: { padding: { left: 81, top: 40, right: 0, bottom: 0 } },
        plugins: { legend: { display: false }, tooltip: { enabled: false }, title: { display: false } },
        scales: {
          x: {
            type: "linear",
            min: toX(0),
            max: toX(END_DAY),
            afterBuildTicks: (scale: any) => {
              scale.ticks = TICK_DATES.map((d) => ({ value: Date.parse(d) }));
            },
            afterFit: (scale: any) => {
              scale.height = 80;
            },
            ticks: {
              autoSkip: false,
              maxRotation: 0,
              minRotation: 0,
              padding: 4,
              color: "#e0e0e0",
              font: { family: FONT, size: 15 },
              callback: (v: any) => new Date(Number(v)).toISOString().slice(0, 10),
            },
            grid: { color: GRID, lineWidth: 1, tickLength: 7 },
            border: { display: false },
          },
          y: {
            type: "linear",
            position: "right",
            min: -6.5,
            max: 188.4,
            afterBuildTicks: (scale: any) => {
              scale.ticks = Y_TICKS.map((v) => ({ value: v }));
            },
            afterFit: (scale: any) => {
              scale.width = 90;
            },
            ticks: {
              padding: 3,
              color: "#e8e8e8",
              font: { family: FONT, size: 17 },
              callback: (v: any) => String(v),
            },
            grid: { color: GRID, lineWidth: 1, tickLength: 8 },
            border: { display: false },
          },
        },
      },
      plugins: [framePlugin, legendPlugin, yTitlePlugin],
    } as any);
    return () => {
      chart.destroy();
    };
  }, []);

  return (
    <div style={{ width: 3840, height: 2066, background: "#000000", position: "relative", overflow: "hidden" }}>
      <Header />
      <div style={{ position: "absolute", top: 95, left: 0, width: 3840, height: 1971 }}>
        <canvas ref={canvasRef} />
      </div>
    </div>
  );
}
